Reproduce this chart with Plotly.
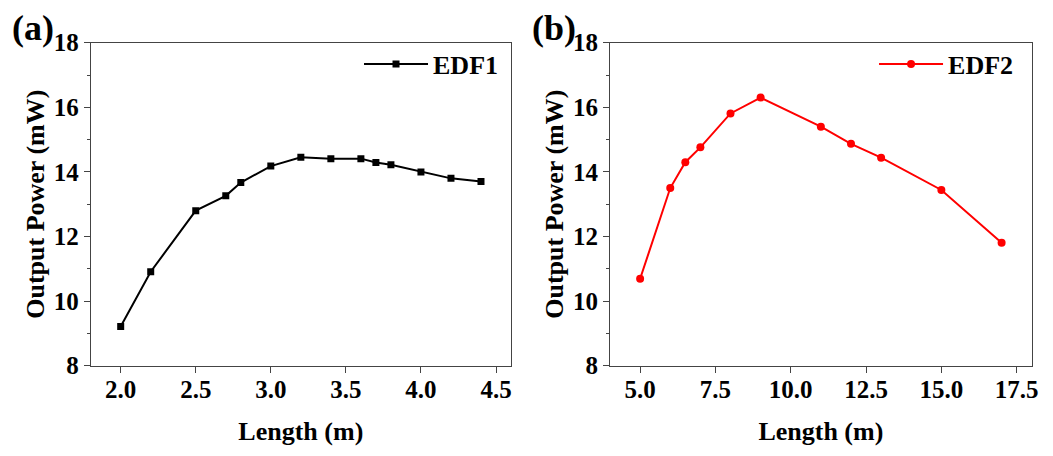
import plotly.graph_objects as go
from plotly.subplots import make_subplots

# Fiber length (m) and output power (mW) for the two fibers
edf1_length = [2.0, 2.2, 2.5, 2.7, 2.8, 3.0, 3.2, 3.4, 3.6, 3.7, 3.8, 4.0, 4.2, 4.4]
edf1_power = [9.21, 10.91, 12.8, 13.26, 13.67, 14.18, 14.45, 14.41, 14.41, 14.29, 14.22, 14.0, 13.8, 13.7]

edf2_length = [5, 6, 6.5, 7, 8, 9, 11, 12, 13, 15, 17]
edf2_power = [10.69, 13.5, 14.3, 14.76, 15.81, 16.3, 15.4, 14.87, 14.44, 13.44, 11.81]

serif = "Liberation Serif"

fig = make_subplots(rows=1, cols=2)

fig.add_trace(go.Scatter(
    x=edf1_length, y=edf1_power, name="EDF1", mode="lines+markers",
    line=dict(color="black", width=2),
    marker=dict(symbol="square", size=7, color="black"),
    showlegend=True,
), row=1, col=1)

fig.add_trace(go.Scatter(
    x=edf2_length, y=edf2_power, name="EDF2", mode="lines+markers",
    line=dict(color="#ff0000", width=2),
    marker=dict(symbol="circle", size=8, color="#ff0000"),
    showlegend=True,
    legend="legend2"
), row=1, col=2)

# shared axis styling, like an Origin plot
axis_style = dict(
    showline=True, linecolor="#444444", linewidth=1, mirror=True,
    ticks="outside", ticklen=6, tickwidth=1, tickcolor="#444444",
    showgrid=False, zeroline=False, automargin=False,
    tickfont=dict(family=serif, size=25, color="black", weight="bold"),
    minor=dict(ticks="outside", ticklen=3, tickwidth=1, tickcolor="#444444", nticks=2),
)
title_font = dict(family=serif, size=26, color="black", weight="bold")

fig.update_xaxes(**axis_style)
fig.update_yaxes(**axis_style)

# the page body has an 8px margin, so domains are pulled up/left by that much
fig.update_xaxes(range=[1.8, 4.6], dtick=0.5, tickformat=".1f", domain=[0.0785, 0.4777],
                 ticklabelstandoff=-5,
                 title=dict(text="Length (m)", font=title_font, standoff=20), row=1, col=1)
fig.update_xaxes(range=[4.0, 18.0], tick0=5, dtick=2.5, tickformat=".1f", domain=[0.5717, 0.9722],
                 ticklabelstandoff=-5,
                 title=dict(text="Length (m)", font=title_font, standoff=20), row=1, col=2)
fig.update_yaxes(range=[8, 18], dtick=2, domain=[0.2156, 0.9239],
                 title=dict(text="Output Power (mW)", font=title_font, standoff=1), row=1, col=1)
fig.update_yaxes(range=[8, 18], dtick=2, domain=[0.2156, 0.9239],
                 title=dict(text="Output Power (mW)", font=title_font, standoff=1), row=1, col=2)

legend_font = dict(family=serif, size=26, color="black", weight="bold")
fig.update_layout(
    width=1053, height=456,
    margin=dict(l=0, r=0, t=0, b=0),
    plot_bgcolor="white", paper_bgcolor="white",
    showlegend=True,
    legend=dict(x=0.4701, y=0.8772, xanchor="right", yanchor="middle", font=legend_font,
                bgcolor="rgba(0,0,0,0)", itemwidth=64),
    legend2=dict(x=0.9592, y=0.8772, xanchor="right", yanchor="middle", font=legend_font,
                 bgcolor="rgba(0,0,0,0)", itemwidth=64),
    annotations=[
        dict(text="(a)", x=0.0019, y=0.956, xref="paper", yref="paper", xanchor="left", yanchor="middle",
             showarrow=False, font=dict(family=serif, size=36, color="black", weight="bold")),
        dict(text="(b)", x=0.4957, y=0.956, xref="paper", yref="paper", xanchor="left", yanchor="middle",
             showarrow=False, font=dict(family=serif, size=36, color="black", weight="bold")),
    ],
)

fig.write_html("out.html")
